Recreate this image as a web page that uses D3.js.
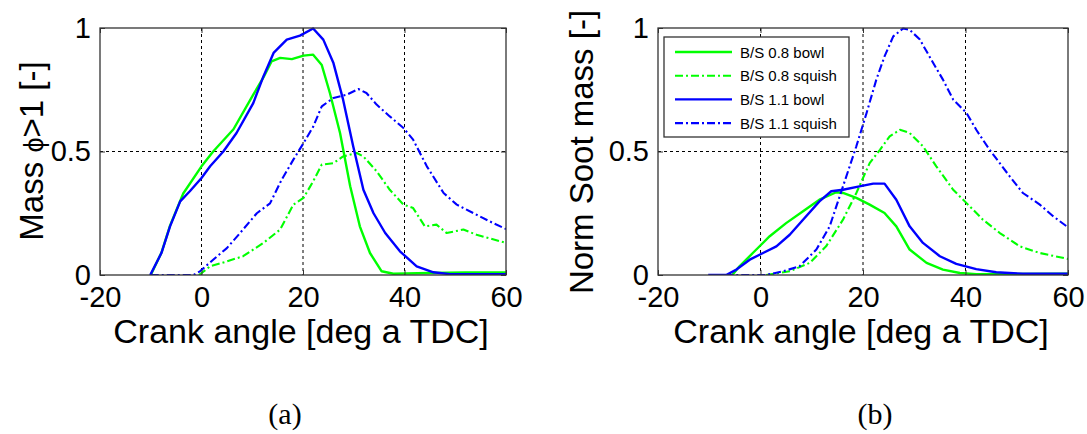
<!DOCTYPE html>
<html>
<head>
<meta charset="utf-8">
<script src="https://cdn.jsdelivr.net/npm/d3@7"></script>
<style>
  body { margin: 0; background: #fff; }
  text { font-family: "Liberation Sans", Arial, sans-serif; fill: #000; }
</style>
</head>
<body>
<svg id="fig" width="1087" height="434"></svg>
<script>
// tick values
var xTicks = [-20, 0, 20, 40, 60];
var xTickLabels = ["-20", "0", "20", "40", "60"];
var yTicks = [0, 0.5, 1];
var yTickLabels = ["0", "0.5", "1"];

// panel (a): mass phi>1, [crank angle, value]
var a_08bowl = [[-10,0.0],[-7.9,0.09],[-6.2,0.2],[-3.6,0.33],[0,0.44],[2.3,0.5],[6.3,0.59],[10.2,0.73],[12.2,0.8],[13.8,0.865],[15.5,0.879],[17.8,0.874],[20.1,0.888],[22,0.892],[23.7,0.85],[25.3,0.737],[27.3,0.575],[29.3,0.359],[31.2,0.197],[33.2,0.089],[35.5,0.015],[37.8,0.005],[45,0.008],[52,0.01],[60,0.01]];
var a_08squish = [[-0.5,0],[1.7,0.035],[5,0.055],[8.2,0.076],[12.2,0.13],[15.5,0.184],[18.1,0.285],[20.1,0.312],[22,0.379],[23.7,0.447],[26,0.453],[27.9,0.48],[30.6,0.494],[31.9,0.48],[34.5,0.42],[37.1,0.345],[39.8,0.285],[41.7,0.271],[44,0.197],[46.3,0.204],[48.3,0.17],[51.6,0.184],[54.2,0.163],[60,0.13]];
var a_11bowl = [[-10.1,0.0],[-7.9,0.089],[-6.2,0.197],[-4.2,0.298],[-2.3,0.339],[0,0.393],[1.7,0.44],[4.3,0.5],[6.9,0.575],[10.2,0.696],[12.2,0.804],[14.2,0.899],[16.8,0.953],[19.4,0.969],[22,0.998],[24,0.953],[26,0.858],[27.9,0.71],[29.9,0.52],[31.9,0.345],[33.9,0.25],[36.2,0.17],[39.1,0.096],[42.4,0.035],[45.7,0.011],[49,0.003],[60,0.003]];
var a_11squish = [[-10,0],[-1.6,0],[-0.3,0.015],[2.3,0.062],[5,0.109],[7.6,0.17],[10.9,0.25],[13.5,0.29],[15.8,0.386],[18.1,0.467],[20.1,0.534],[22,0.6],[23.7,0.683],[26,0.717],[28.6,0.73],[30.9,0.753],[32.5,0.737],[34.5,0.69],[37.1,0.642],[39.8,0.595],[41.7,0.548],[44.4,0.44],[47.7,0.332],[50.3,0.285],[53.6,0.25],[56.8,0.217],[60,0.186]];

// panel (b): normalised soot mass
var b_08bowl = [[-5.5,0.0],[-4.1,0.035],[-1.5,0.089],[1.8,0.157],[5,0.21],[8.3,0.258],[11.5,0.305],[14.8,0.335],[16.1,0.332],[18.7,0.312],[21.3,0.285],[24.2,0.251],[26.5,0.197],[29.1,0.103],[32.4,0.049],[35.6,0.022],[38.9,0.008],[42.1,0.003],[60,0.005]];
var b_08squish = [[1.1,0],[5.7,0.015],[9.6,0.049],[12.8,0.116],[16.1,0.224],[18.7,0.332],[21.3,0.453],[23.3,0.507],[25.2,0.561],[27.2,0.588],[29.1,0.575],[31.7,0.521],[34.3,0.44],[37.6,0.345],[40.2,0.291],[43.4,0.224],[46.7,0.17],[50.6,0.116],[54.5,0.089],[60,0.065]];
var b_11bowl = [[-10.2,0],[-6.7,0],[-4.7,0.022],[-2.1,0.062],[0.5,0.089],[3.1,0.116],[5.7,0.163],[8.3,0.224],[11.5,0.298],[13.8,0.339],[16.1,0.345],[19.3,0.359],[22,0.37],[24.2,0.37],[26.5,0.305],[29.1,0.197],[31.7,0.13],[35,0.076],[38.2,0.045],[42.1,0.024],[46,0.011],[51.2,0.005],[60,0.005]];
var b_11squish = [[-10,0],[1.1,0],[4.4,0.015],[7.6,0.035],[10.9,0.103],[13.5,0.197],[16.1,0.359],[18.7,0.521],[20.7,0.656],[22.6,0.791],[24.2,0.885],[25.9,0.966],[27.8,0.998],[29.1,0.993],[31.1,0.953],[33.7,0.858],[35.6,0.791],[37.6,0.71],[40.2,0.656],[42.1,0.588],[44.7,0.507],[48.6,0.4],[51.2,0.332],[54.5,0.285],[57.1,0.238],[60,0.193]];

var seriesNames = ["B/S 0.8 bowl", "B/S 0.8 squish", "B/S 1.1 bowl", "B/S 1.1 squish"];
var seriesColors = ["#00ff00", "#00ff00", "#0000ff", "#0000ff"];
var seriesDash = [null, "8,3,2,3", null, "8,3,2,3"];
var seriesWidth = [2.4, 2.1, 2.4, 2.1];

var svg = d3.select("#fig");
svg.append("rect").attr("width", 1087).attr("height", 434).attr("fill", "#fff");

function drawPanel(p) {
  var x = d3.scaleLinear().domain([-20, 60]).range([p.left, p.right]);
  var y = d3.scaleLinear().domain([0, 1]).range([p.bottom, p.top]);
  var g = svg.append("g");

  // grid
  g.selectAll(".vg").data([0, 20, 40]).enter().append("line")
    .attr("x1", function(d){ return x(d); }).attr("x2", function(d){ return x(d); })
    .attr("y1", p.top).attr("y2", p.bottom)
    .attr("stroke", "#000").attr("stroke-width", 1).attr("stroke-dasharray", "3,3");
  g.selectAll(".hg").data([0.5]).enter().append("line")
    .attr("x1", p.left).attr("x2", p.right)
    .attr("y1", function(d){ return y(d); }).attr("y2", function(d){ return y(d); })
    .attr("stroke", "#000").attr("stroke-width", 1).attr("stroke-dasharray", "3,3");

  // lines
  var clipId = "clip" + p.id;
  svg.append("clipPath").attr("id", clipId).append("rect")
    .attr("x", p.left).attr("y", p.top - 2).attr("width", p.right - p.left).attr("height", p.bottom - p.top + 2);
  var line = d3.line().x(function(d){ return x(d[0]); }).y(function(d){ return y(d[1]); });
  g.append("g").attr("clip-path", "url(#" + clipId + ")")
    .selectAll("path").data(p.series).enter().append("path")
    .attr("d", line).attr("fill", "none")
    .attr("stroke", function(d, i){ return seriesColors[i]; })
    .attr("stroke-width", function(d, i){ return seriesWidth[i]; })
    .attr("stroke-dasharray", function(d, i){ return seriesDash[i]; })
    .attr("stroke-linejoin", "round");

  // axes (inward ticks)
  var xa = g.append("g").attr("transform", "translate(0," + p.bottom + ")")
    .call(d3.axisBottom(x).tickValues(xTicks).tickSizeInner(-5).tickSizeOuter(0).tickPadding(11)
      .tickFormat(function(d, i){ return xTickLabels[i]; }));
  var xt = g.append("g").attr("transform", "translate(0," + p.top + ")")
    .call(d3.axisTop(x).tickValues(xTicks).tickSizeInner(-5).tickSizeOuter(0).tickFormat(""));
  var ya = g.append("g").attr("transform", "translate(" + p.left + ",0)")
    .call(d3.axisLeft(y).tickValues(yTicks).tickSizeInner(-5).tickSizeOuter(0).tickPadding(9)
      .tickFormat(function(d, i){ return yTickLabels[i]; }));
  var yr = g.append("g").attr("transform", "translate(" + p.right + ",0)")
    .call(d3.axisRight(y).tickValues(yTicks).tickSizeInner(-5).tickSizeOuter(0).tickFormat(""));
  [xa, xt, ya, yr].forEach(function(a){
    a.select(".domain").remove();
    a.selectAll("line").attr("stroke", "#333");
    a.selectAll("text").attr("font-size", 29).attr("font-family", "Liberation Sans, Arial, sans-serif").attr("fill", "#000");
  });

  // box
  g.append("rect").attr("x", p.left).attr("y", p.top)
    .attr("width", p.right - p.left).attr("height", p.bottom - p.top)
    .attr("fill", "none").attr("stroke", "#333").attr("stroke-width", 1.3);

  // axis titles
  g.append("text").attr("x", (p.left + p.right) / 2 - 2).attr("y", 343)
    .attr("text-anchor", "middle").attr("font-size", 34).text("Crank angle [deg a TDC]");
  var yl = g.append("text").attr("transform", "translate(" + p.ylabX + "," + p.ylabY + ") rotate(-90)")
    .attr("text-anchor", "middle").attr("font-size", 33);
  p.ylabel.forEach(function(part){
    var t = yl.append("tspan").text(part[0]);
    if (part[1]) t.attr("font-size", part[1]);
  });

  // caption
  g.append("text").attr("x", p.capX).attr("y", 424).attr("text-anchor", "middle")
    .attr("font-size", 30).style("font-family", "'Liberation Serif', 'Times New Roman', serif")
    .text(p.caption);

  return { x: x, y: y, g: g };
}

drawPanel({ id: "a", left: 100, right: 506, top: 28, bottom: 275, ylabX: 43, ylabY: 151,
  ylabel: [["Mass "], ["\u03d5", 27], [">1 [-]"]],
  caption: "(a)", capX: 285, series: [a_08bowl, a_08squish, a_11bowl, a_11squish] });
var pb = drawPanel({ id: "b", left: 658, right: 1068, top: 28, bottom: 275, ylabX: 593, ylabY: 152,
  ylabel: [["Norm Soot mass [-]"]],
  caption: "(b)", capX: 875, series: [b_08bowl, b_08squish, b_11bowl, b_11squish] });

// legend in panel (b)
var lg = pb.g.append("g").attr("transform", "translate(664,37)");
lg.append("rect").attr("width", 185).attr("height", 100).attr("fill", "#fff")
  .attr("stroke", "#333").attr("stroke-width", 1.3);
var items = lg.selectAll(".item").data(seriesNames).enter().append("g")
  .attr("transform", function(d, i){ return "translate(0," + (15 + i * 23.7) + ")"; });
items.append("line").attr("x1", 11).attr("x2", 68).attr("y1", 0).attr("y2", 0)
  .attr("stroke", function(d, i){ return seriesColors[i]; })
  .attr("stroke-width", function(d, i){ return seriesWidth[i]; })
  .attr("stroke-dasharray", function(d, i){ return seriesDash[i]; });
items.append("text").attr("x", 76).attr("y", 5.5).attr("font-size", 15).text(function(d){ return d; });
</script>
</body>
</html>
